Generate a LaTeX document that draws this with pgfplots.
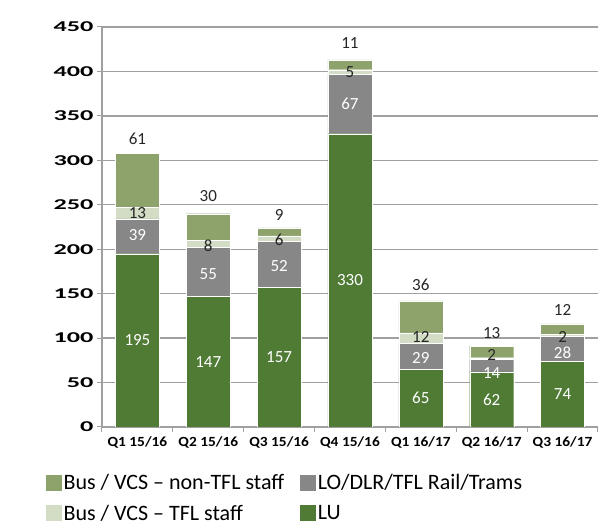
\documentclass[border=0pt]{standalone}
\usepackage{fontspec}
\setmainfont{Carlito}
\newfontfamily\yfont[FakeStretch=1.75]{Carlito}
\newfontfamily\xfont[FakeStretch=1.1]{Carlito}
\usepackage{pgfplots}
\pgfplotsset{compat=1.18}
\definecolor{lu}{HTML}{4F7B35}
\definecolor{lo}{HTML}{878787}
\definecolor{busn}{HTML}{8EA26C}
\definecolor{bust}{HTML}{D3DCC4}
\definecolor{gridc}{HTML}{A0A0A0}
\pgfplotstableread{
x lu lo bust busn
0 195 39 13 61
1 147 55 8 30
2 157 52 6 9
3 330 67 5 11
4 65 29 12 36
5 62 14 2 13
6 74 28 2 12
}\datatable
\begin{document}
\begin{tikzpicture}
\path[use as bounding box] (-102pt,-99pt) rectangle (509pt,427pt);
\begin{axis}[
  scale only axis, width=496pt, height=400pt,
  ybar stacked, bar width=44pt,
  xmin=-0.5, xmax=6.5, ymin=0, ymax=450,
  ytick={0,50,...,450},
  xtick={-0.5,0.5,...,6.5},
  x tick label as interval,
  xticklabels={Q1 15/16,Q2 15/16,Q3 15/16,Q4 15/16,Q1 16/17,Q2 16/17,Q3 16/17},
  axis x line*=bottom, axis y line*=left,
  axis line style={gridc, line width=1.3pt},
  ymajorgrids, grid style={gridc, line width=1.4pt},
  major tick style={gridc, line width=1pt}, major tick length=5pt, tick align=outside,
  /pgf/number format/assume math mode=true,
  y tick label style={font=\yfont\bfseries\fontsize{15}{15}\selectfont, text=black},
  x tick label style={font=\xfont\bfseries\fontsize{14}{14}\selectfont, text=black, yshift=-1pt},
]
\addplot[fill=lu, draw=white, line width=0.3pt] table[x=x, y=lu] {\datatable};
\addplot[fill=lo, draw=white, line width=0.3pt] table[x=x, y=lo] {\datatable};
\addplot[fill=bust, draw=white, line width=0.3pt] table[x=x, y=bust] {\datatable};
\addplot[fill=busn, draw=white, line width=0.3pt] table[x=x, y=busn] {\datatable};
\end{axis}
\begin{axis}[
  scale only axis, width=496pt, height=400pt,
  xmin=-0.5, xmax=6.5, ymin=0, ymax=450,
  hide axis, clip=false,
  legend columns=2, legend cell align=left,
  legend style={at={(axis description cs:-0.113,-0.112)}, anchor=north west, draw=none, fill=none,
    font=\fontsize{22}{24}\selectfont, /tikz/every even column/.append style={column sep=14pt},
    row sep=10pt, inner sep=0pt, nodes={inner sep=2pt}},
  legend image code/.code={\fill[#1] (0pt,-7.5pt) rectangle (15pt,7.5pt);},
]
\addlegendimage{busn}\addlegendentry{Bus / VCS – non-TFL staff}
\addlegendimage{lo}\addlegendentry{LO/DLR/TFL Rail/Trams}
\addlegendimage{bust}\addlegendentry{Bus / VCS – TFL staff}
\addlegendimage{lu}\addlegendentry{LU}
% white labels (LU, LO)
\addplot[forget plot, only marks, mark=*, mark size=0pt, mark options={draw=none,fill=none},
  nodes near coords, point meta=explicit symbolic,
  nodes near coords style={anchor=center, text=white, font=\fontsize{17}{17}\selectfont}]
  table[meta=l] {
x y l
0 97.5 195
1 73.5 147
2 78.5 157
3 165 330
4 32.5 65
5 31 62
6 37 74
0 216 39
1 172 55
2 181 52
3 363.5 67
4 78 29
5 61 14
6 83 28
};
% black labels (TfL staff segment and top)
\addplot[forget plot, only marks, mark=*, mark size=0pt, mark options={draw=none,fill=none},
  nodes near coords, point meta=explicit symbolic,
  nodes near coords style={anchor=center, text=black!85, font=\fontsize{17}{17}\selectfont}]
  table[meta=l] {
x y l
0 240.5 13
1 204 8
2 211 6
3 399.5 5
4 101 12
5 81 2
6 101 2
0 324 61
1 260 30
2 239 9
3 432 11
4 160 36
5 106 13
6 132 12
};
\end{axis}
\end{tikzpicture}
\end{document}
